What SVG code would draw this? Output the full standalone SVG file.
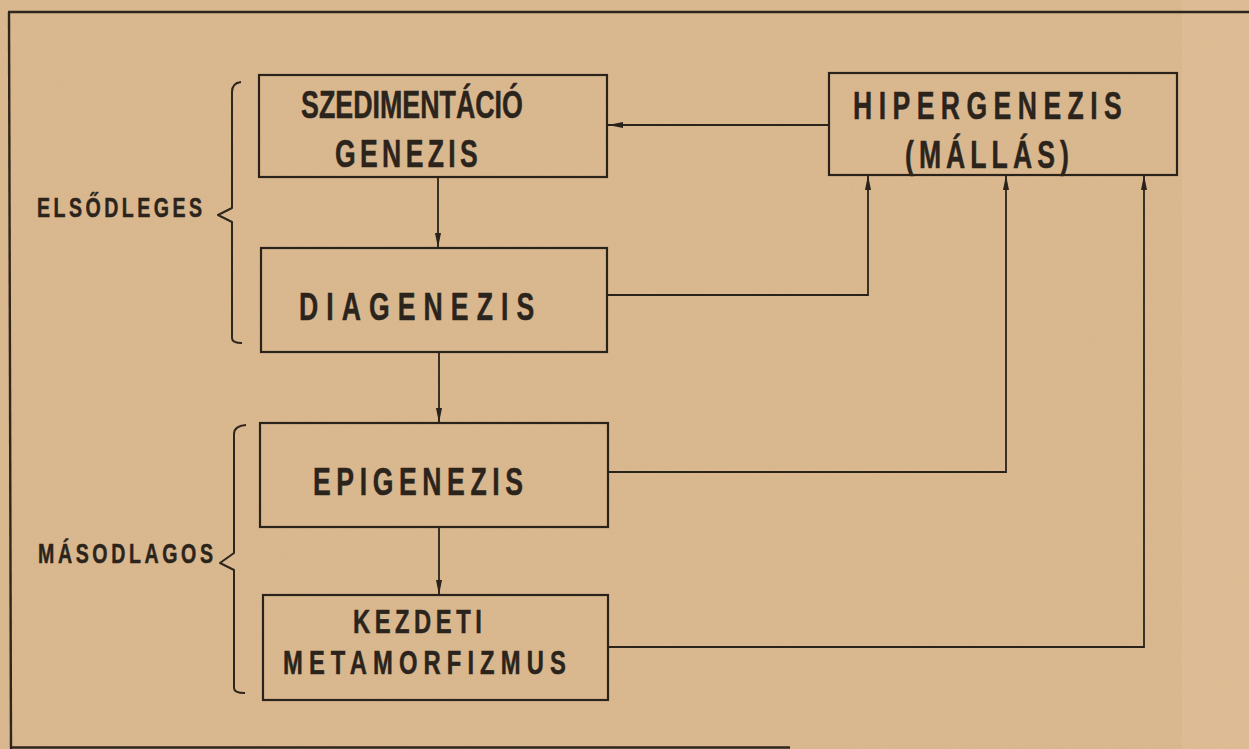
<svg xmlns="http://www.w3.org/2000/svg" width="1249" height="749" viewBox="0 0 1249 749">
  <style>
    .box { fill: none; stroke: #2a231b; stroke-width: 2.2; }
    .link { fill: none; stroke: #2a231b; stroke-width: 1.8; }
    .frame { fill: none; stroke: #2e261d; stroke-width: 2.4; }
    .brace { fill: none; stroke: #2e261d; stroke-width: 2; stroke-linejoin: round; }
    .lbl { font-family: "Liberation Sans", Arial, sans-serif; font-weight: bold; fill: #2b241c; stroke: #2b241c; stroke-width: 0.5; }
    .big { font-size: 38px; }
    .mid { font-size: 34px; }
    .side { font-size: 28px; }
  </style>
  <defs>
    <marker id="arrow" markerUnits="userSpaceOnUse" markerWidth="16" markerHeight="8" refX="15" refY="4" orient="auto">
      <path d="M0,1 L15,4 L0,7 Z" fill="#2a231b"/>
    </marker>
    <filter id="paper" x="0" y="0" width="100%" height="100%">
      <feTurbulence type="fractalNoise" baseFrequency="0.9" numOctaves="2" seed="7" result="n"/>
      <feColorMatrix in="n" type="matrix" values="0 0 0 0 0.45  0 0 0 0 0.33  0 0 0 0 0.2  0 0 0 0.16 0"/>
    </filter>
  </defs>

  <!-- paper -->
  <rect x="0" y="0" width="1249" height="749" fill="#ddba90"/>
  <rect x="1182" y="0" width="67" height="749" fill="#e2c198" opacity="0.7"/>
  <rect x="0" y="0" width="1249" height="749" filter="url(#paper)"/>

  <!-- outer frame -->
  <g id="frame">
    <path class="frame" d="M8,12 H1249"/>
    <path class="frame" d="M9,12 L11,749"/>
    <path class="frame" d="M10,747.5 H790"/>
  </g>

  <!-- group braces and their labels (lettering is condensed with a horizontal scale of 0.7) -->
  <g id="elsodleges">
    <path class="brace" d="M241,82 Q232,83 232,92 V208 L218,215 L232,222 V338 Q232,343 242,343"/>
    <text class="lbl side" transform="translate(37,217) scale(0.7,1)" textLength="236" lengthAdjust="spacing">ELSŐDLEGES</text>
  </g>
  <g id="masodlagos">
    <path class="brace" d="M246,425 Q234,426 234,434 V553 L220,563 L234,570 V688 Q234,693 245,693"/>
    <text class="lbl side" transform="translate(38,563) scale(0.7,1)" textLength="250" lengthAdjust="spacing">MÁSODLAGOS</text>
  </g>

  <!-- connectors -->
  <g id="connectors">
    <path class="link" d="M829,125 H608" marker-end="url(#arrow)"/>
    <path class="link" d="M438,177 V248" marker-end="url(#arrow)"/>
    <path class="link" d="M607,295 H868 V175" marker-end="url(#arrow)"/>
    <path class="link" d="M439,352 V423" marker-end="url(#arrow)"/>
    <path class="link" d="M608,472 H1006 V175" marker-end="url(#arrow)"/>
    <path class="link" d="M439,527 V595" marker-end="url(#arrow)"/>
    <path class="link" d="M608,647 H1144 V175" marker-end="url(#arrow)"/>
  </g>

  <!-- nodes -->
  <g id="szedimentacio">
    <rect class="box" x="259" y="75" width="348" height="102"/>
    <text class="lbl big" transform="translate(301,118) scale(0.7,1)" textLength="317" lengthAdjust="spacingAndGlyphs">SZEDIMENTÁCIÓ</text>
    <text class="lbl big" transform="translate(335,167) scale(0.7,1)" textLength="204" lengthAdjust="spacing">GENEZIS</text>
  </g>

  <g id="hipergenezis">
    <rect class="box" x="829" y="73" width="348" height="102"/>
    <text class="lbl big" transform="translate(853,119) scale(0.7,1)" textLength="384" lengthAdjust="spacing">HIPERGENEZIS</text>
    <text class="lbl big" transform="translate(905,168) scale(0.7,1)" textLength="234" lengthAdjust="spacing">(MÁLLÁS)</text>
  </g>

  <g id="diagenezis">
    <rect class="box" x="261" y="248" width="346" height="104"/>
    <text class="lbl big" transform="translate(299,320) scale(0.7,1)" textLength="336" lengthAdjust="spacing">DIAGENEZIS</text>
  </g>

  <g id="epigenezis">
    <rect class="box" x="260" y="423" width="348" height="104"/>
    <text class="lbl big" transform="translate(313,495) scale(0.7,1)" textLength="300" lengthAdjust="spacing">EPIGENEZIS</text>
  </g>

  <g id="kezdeti-metamorfizmus">
    <rect class="box" x="263" y="595" width="345" height="105"/>
    <text class="lbl mid" transform="translate(353,633) scale(0.7,1)" textLength="184" lengthAdjust="spacing">KEZDETI</text>
    <text class="lbl mid" transform="translate(283,674) scale(0.7,1)" textLength="404" lengthAdjust="spacing">METAMORFIZMUS</text>
  </g>
</svg>
